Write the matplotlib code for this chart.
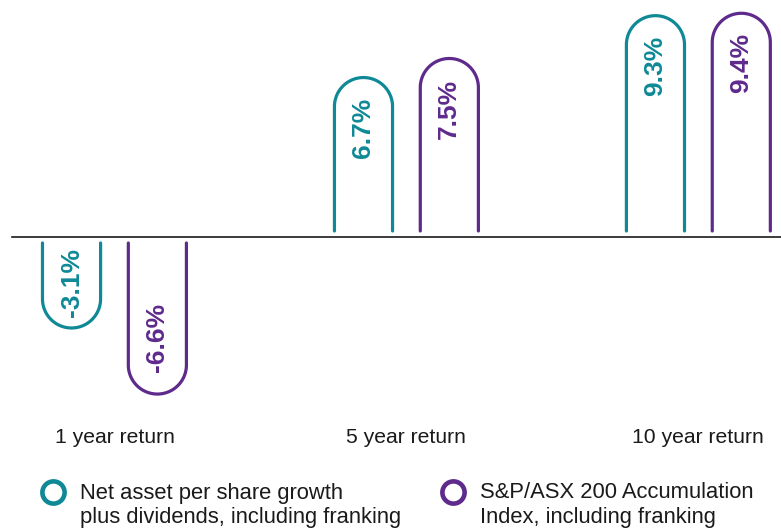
import numpy as np
import matplotlib
matplotlib.use("Agg")
import matplotlib.pyplot as plt
from matplotlib.lines import Line2D

# ─── Data ──────────────────────────────────────────────────────────────────────

periods = ["1 year return", "5 year return", "10 year return"]
nav_growth = [-3.1, 6.7, 9.3]       # Net asset per share growth + dividends
index_return = [-6.6, 7.5, 9.4]     # S&P/ASX 200 Accumulation Index
series_labels = [
    "Net asset per share growth\nplus dividends, including franking",
    "S&P/ASX 200 Accumulation\nIndex, including franking",
]

TEAL = "#0f8996"
PURPLE = "#5e2a8c"
FONT = "Liberation Sans"

# ─── Layout ────────────────────────────────────────────────────────────────────

W, H = 781, 529
fig = plt.figure(figsize=(W / 100, H / 100), dpi=100)
plt.rcParams["font.family"] = FONT

ax = fig.add_axes([0, 1 - 410 / H, 1, 410 / H])
ax.set_xlim(-0.392, 2.283)
ax.set_ylim(-7.27, 9.958)
ax.axis("off")

BAR_W = 0.199
OFFSET = 0.147
GAP_PX = 6
LABEL_PAD_PX = 20
MIN_LEN_PX = 91     # short bars are stretched so the label fits inside

# pixel scale of data units
p0 = ax.transData.transform((0, 0))
p1 = ax.transData.transform((1, 1))
px_x, px_y = p1[0] - p0[0], p1[1] - p0[1]

# baseline
ax.plot([-0.351, 2.283], [0, 0], color="#1a1a1a", lw=1.2, zorder=1)


def u_bar(xc, value, color):
    sign = 1 if value >= 0 else -1
    rx = BAR_W / 2
    ry = rx * px_x / px_y
    start = sign * GAP_PX / px_y
    end = sign * max(abs(value), MIN_LEN_PX / px_y)
    arc_c = end - sign * ry
    th = np.linspace(np.pi, 0, 60)
    xs = np.concatenate([[xc - rx], xc + rx * np.cos(th), [xc + rx]])
    ys = np.concatenate([[start], arc_c + sign * ry * np.sin(th), [start]])
    ax.plot(xs, ys, color=color, lw=2.3, solid_capstyle="round", zorder=2)

    # value label near the rounded end
    txt = f"{value:.1f}%"
    if sign > 0:
        y, va = end - LABEL_PAD_PX / px_y, "top"
    elif abs(value) * px_y < MIN_LEN_PX:
        y, va = -11 / px_y, "top"
    else:
        y, va = end + 22 / px_y, "bottom"
    ax.text(xc, y, txt, rotation=90, ha="center", va=va, color=color,
            fontsize=19, fontweight="bold", family=FONT)


for i, (a, b) in enumerate(zip(nav_growth, index_return)):
    u_bar(i - OFFSET, a, TEAL)
    u_bar(i + OFFSET, b, PURPLE)
    ax.text(i, -(438 - 237) / px_y, periods[i], ha="center", va="center",
            fontsize=15.2, color="#1a1a1a", family=FONT, clip_on=False)

# ─── Legend ────────────────────────────────────────────────────────────────────

for xm, xt, col, lab in [(53, 80, TEAL, series_labels[0]),
                         (453, 480, PURPLE, series_labels[1])]:
    fig.add_artist(Line2D([xm / W], [1 - 492 / H], marker="o", markersize=16,
                          markerfacecolor="white", markeredgecolor=col,
                          markeredgewidth=3.3, transform=fig.transFigure))
    for k, line in enumerate(lab.split("\n")):
        fig.text(xt / W, 1 - (493 + 25 * k) / H, line, ha="left",
                 va="center", fontsize=15.8, color="#1a1a1a", family=FONT)

fig.savefig("out.png", dpi=100, facecolor="white")
